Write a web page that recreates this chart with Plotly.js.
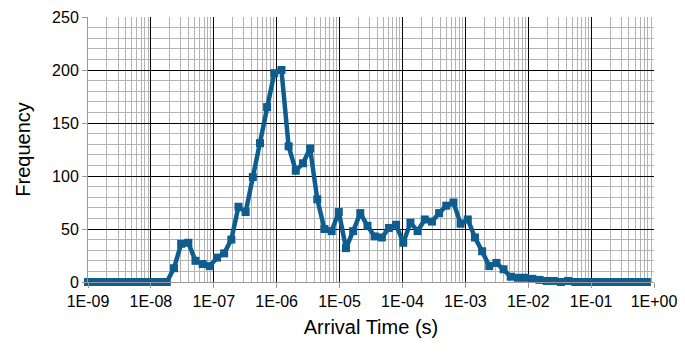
<!DOCTYPE html>
<html>
<head>
<meta charset="utf-8">
<script src="https://cdn.plot.ly/plotly-3.0.1.min.js"></script>
<style>html,body{margin:0;padding:0;background:#fff;}#chart{width:685px;height:355px;}</style>
</head>
<body>
<div id="chart"></div>
<script>
// log10 of arrival-time bin positions (s)
const logTime = [
  -9.000, -8.886, -8.772, -8.658, -8.544, -8.430, -8.316, -8.202, -8.088, -7.975,
  -7.861, -7.747, -7.633, -7.519, -7.405, -7.291, -7.177, -7.063, -6.949, -6.835,
  -6.721, -6.607, -6.493, -6.379, -6.265, -6.152, -6.038, -5.924, -5.810, -5.696,
  -5.582, -5.468, -5.354, -5.240, -5.126, -5.012, -4.898, -4.784, -4.670, -4.556,
  -4.442, -4.328, -4.215, -4.101, -3.987, -3.873, -3.759, -3.645, -3.531, -3.417,
  -3.303, -3.189, -3.075, -2.961, -2.847, -2.733, -2.619, -2.505, -2.392, -2.278,
  -2.164, -2.050, -1.936, -1.822, -1.708, -1.594, -1.480, -1.366, -1.252, -1.138,
  -1.024, -0.910, -0.796, -0.682, -0.569, -0.455, -0.341, -0.227, -0.113
];
const frequency = [
  0, 0, 0, 0, 0, 0, 0, 0, 0, 0,
  0, 0, 13, 36, 37, 20, 17, 15, 23, 27,
  40, 71, 66, 99, 131, 165, 197, 200, 128, 105,
  112, 126, 78, 50, 48, 66, 32, 48, 65, 53,
  43, 42, 51, 54, 37, 56, 48, 59, 57, 65,
  72, 75, 55, 59, 42, 29, 15, 18, 12, 5,
  4, 4, 3, 2, 1, 1, 0, 1, 0, 0,
  0, 0, 0, 0, 0, 0, 0, 0, 0
];
const xTickVals = [1e-9, 1e-8, 1e-7, 1e-6, 1e-5, 1e-4, 1e-3, 1e-2, 1e-1, 1e0];
const xTickText = ['1E-09', '1E-08', '1E-07', '1E-06', '1E-05', '1E-04', '1E-03', '1E-02', '1E-01', '1E+00'];

const arrivalTime = logTime.map(e => Math.pow(10, e));

const trace = {
  x: arrivalTime,
  y: frequency,
  type: 'scatter',
  mode: 'lines+markers',
  line: {color: '#0f5d8e', width: 4.5},
  marker: {symbol: 'square', size: 8, color: '#0f5d8e'},
  cliponaxis: false,
  hoverinfo: 'x+y'
};

const font = {family: '"Liberation Sans", Arial, Helvetica, sans-serif', color: '#000'};

const layout = {
  width: 685, height: 355,
  margin: {l: 88, r: 31, t: 17, b: 73},
  paper_bgcolor: '#fff', plot_bgcolor: '#fff',
  showlegend: false,
  font: Object.assign({size: 16}, font),
  xaxis: {
    type: 'log',
    range: [-9, 0],
    tickmode: 'array',
    tickvals: xTickVals,
    ticktext: xTickText,
    ticks: 'outside', ticklen: 5, tickcolor: '#999',
    showgrid: true, gridcolor: '#000', gridwidth: 1,
    minor: {dtick: 'D1', showgrid: true, gridcolor: '#b3b3b3', gridwidth: 1, ticks: ''},
    showline: true, linecolor: '#999', linewidth: 1,
    zeroline: false,
    tickfont: Object.assign({size: 16}, font),
    title: {text: 'Arrival Time (s)', font: Object.assign({size: 20}, font), standoff: 10}
  },
  yaxis: {
    range: [0, 250],
    dtick: 50,
    ticks: 'outside', ticklen: 5, tickcolor: '#999',
    showgrid: true, gridcolor: '#000', gridwidth: 1,
    minor: {dtick: 10, showgrid: true, gridcolor: '#b3b3b3', gridwidth: 1, ticks: ''},
    showline: true, linecolor: '#999', linewidth: 1,
    zeroline: false,
    tickfont: Object.assign({size: 16}, font),
    title: {text: 'Frequency', font: Object.assign({size: 20}, font), standoff: 16}
  }
};

Plotly.newPlot('chart', [trace], layout, {displayModeBar: false, staticPlot: true});
</script>
</body>
</html>
